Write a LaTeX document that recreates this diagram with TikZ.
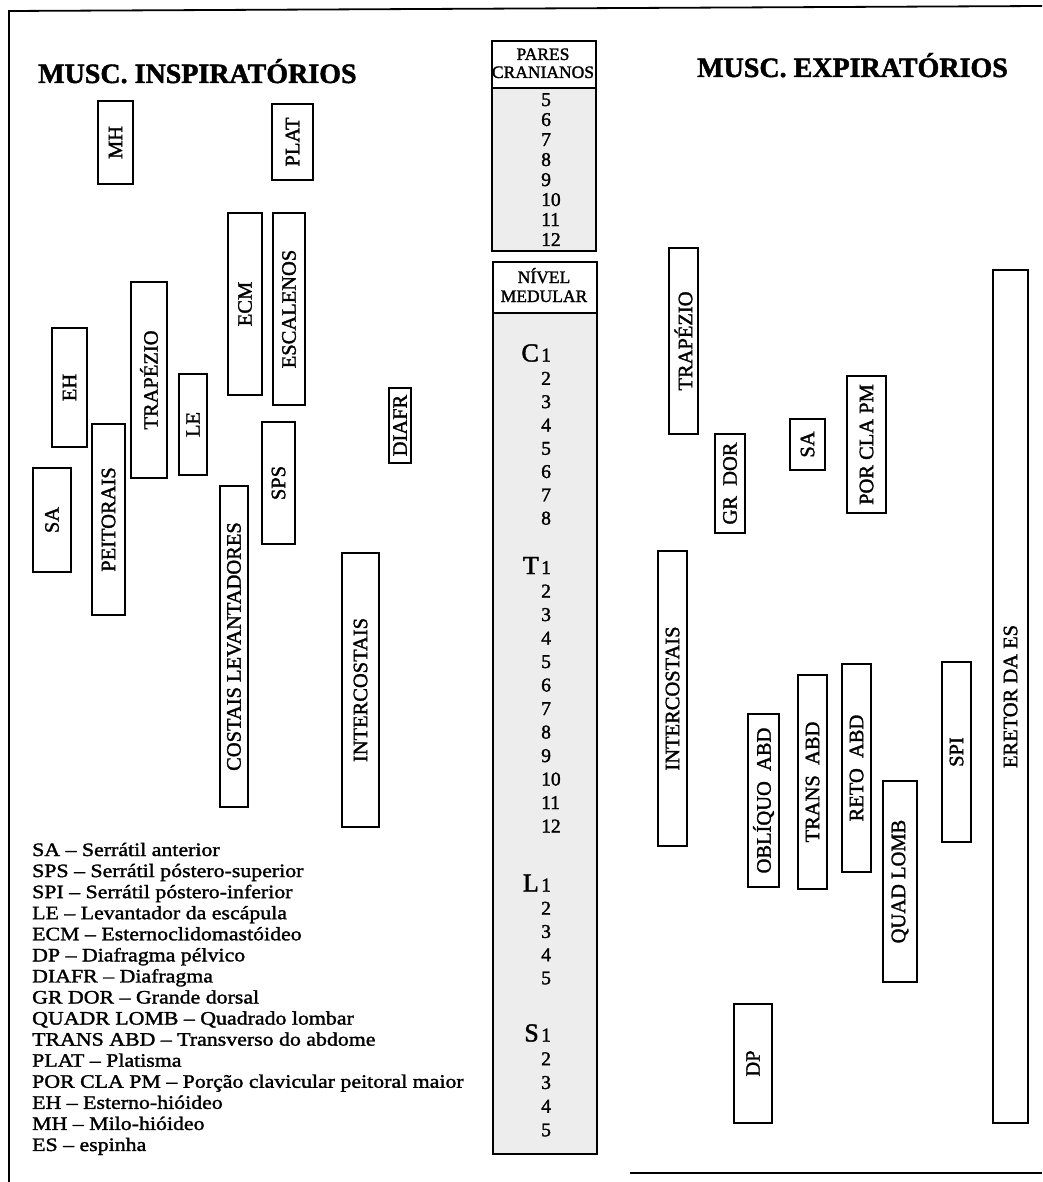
\documentclass[tikz,border=0pt]{standalone}
\usepackage{fontspec}
\setmainfont{Liberation Serif}[FakeBold=1.6]
\newfontfamily\legendfont{Liberation Serif}[FakeStretch=1.15, FakeBold=1.6, Ligatures=TeX]
\begin{document}
\begin{tikzpicture}[x=1pt,y=-1pt,
  mbox/.style={draw=black, line width=1.6pt, inner sep=0pt, rotate=90,
    font=\fontsize{20.5}{22}\selectfont},
  colbox/.style={draw=black, line width=2.2pt, inner sep=0pt},
  shade/.style={colbox, fill=black!7},
  hdr/.style={font=\fontsize{17.5}{18}\selectfont, inner sep=0pt, anchor=base},
  num/.style={font=\fontsize{19.5}{20}\selectfont, inner sep=0pt, anchor=base west},
  big/.style={font=\fontsize{26}{27}\selectfont, inner sep=0pt, anchor=base east},
  title/.style={font=\fontsize{28}{30}\selectfont\bfseries, inner sep=0pt, anchor=base west},
  leg/.style={font=\legendfont\fontsize{19}{20}\selectfont, inner sep=0pt, anchor=base west},
  frame/.style={line width=1.8pt}
]
\useasboundingbox (0,0) rectangle (1042,1182);
\fill[white] (0,0) rectangle (1042,1182);

% frame
\coordinate (ftl) at (9,11);
\coordinate (ftr) at (1042,6);
\coordinate (fbl) at (9,1182);
\coordinate (fbr) at (1042,1173);
\coordinate (fbm) at (630,1173);
\draw[frame] (fbl) -- (ftl) -- (ftr);
\draw[frame] (fbm) -- (fbr);

% titles
\node[title] (tin) at (38,83) {MUSC. INSPIRATÓRIOS};
\node[title] (tex) at (697,77) {MUSC. EXPIRATÓRIOS};

% central column
\node[colbox, minimum width=104pt, minimum height=47pt, anchor=north west] (crh) at (491,40) {};
\node[shade, minimum width=104pt, minimum height=163pt, anchor=north west] (crb) at (491,87) {};
\node[hdr] (crh1) at (543,60) {PARES};
\node[hdr] (crh2) at (543,78) {CRANIANOS};
\foreach \n [count=\i from 0] in {5,6,7,8,9,10,11,12}{
  \node[num] (cr\n) at (541,{106+20*\i}) {\n};
}
\node[colbox, minimum width=104pt, minimum height=51pt, anchor=north west] (mdh) at (492,261) {};
\node[shade, minimum width=104pt, minimum height=841pt, anchor=north west] (mdb) at (492,312) {};
\node[hdr] (mdh1) at (544,283) {NÍVEL};
\node[hdr] (mdh2) at (544,302) {MEDULAR};

% cervical
\node[big] (C) at (539,361.5) {C};
\foreach \n [count=\i from 0] in {1,2,3,4,5,6,7,8}{
  \node[num] (c\n) at (541,{361.5+23.3*\i}) {\n};
}
% thoracic
\node[big] (T) at (539,574) {T};
\foreach \n [count=\i from 0] in {1,2,3,4,5,6,7,8,9,10,11,12}{
  \node[num] (t\n) at (541,{574+23.5*\i}) {\n};
}
% lumbar
\node[big] (L) at (539,891.5) {L};
\foreach \n [count=\i from 0] in {1,2,3,4,5}{
  \node[num] (l\n) at (541,{891.5+23.2*\i}) {\n};
}
% sacral
\node[big] (S) at (539,1041.5) {S};
\foreach \n [count=\i from 0] in {1,2,3,4,5}{
  \node[num] (s\n) at (541,{1041.5+23.7*\i}) {\n};
}

% inspiratory muscles
\node[mbox, minimum width=83pt, minimum height=35pt] (mh) at (115.5,142.5) {MH};
\node[mbox, minimum width=76pt, minimum height=41pt] (plat) at (292.5,142) {PLAT};
\node[mbox, minimum width=182pt, minimum height=34pt] (ecm) at (245,304) {ECM};
\node[mbox, minimum width=192pt, minimum height=32pt] (esc) at (289,309) {ESCALENOS};
\node[mbox, minimum width=196pt, minimum height=36pt] (trapl) at (149,380) {TRAPÉZIO};
\node[mbox, minimum width=119pt, minimum height=35pt] (eh) at (69.5,387.5) {EH};
\node[mbox, minimum width=101pt, minimum height=28pt] (le) at (193,424.5) {LE};
\node[mbox, minimum width=75pt, minimum height=22pt] (diafr) at (400,425.5) {DIAFR};
\node[mbox, minimum width=104pt, minimum height=38pt] (sal) at (52,520) {SA};
\node[mbox, minimum width=191pt, minimum height=33pt] (peit) at (108.5,519.5) {PEITORAIS};
\node[mbox, minimum width=122pt, minimum height=33pt] (sps) at (278.5,483) {SPS};
\node[mbox, minimum width=321pt, minimum height=28pt] (cost) at (234,646.5) {COSTAIS LEVANTADORES};
\node[mbox, minimum width=274pt, minimum height=37pt] (intl) at (360.5,690) {INTERCOSTAIS};

% expiratory muscles
\node[mbox, minimum width=186pt, minimum height=29pt] (trapr) at (683.5,341) {TRAPÉZIO};
\node[mbox, minimum width=99pt, minimum height=30pt] (grdor) at (730,483.5) {GR\hspace{0.5em}DOR};
\node[mbox, minimum width=51pt, minimum height=35pt] (sar) at (807.5,444.5) {SA};
\node[mbox, minimum width=137pt, minimum height=39pt] (porcla) at (866.5,444.5) {POR CLA PM};
\node[mbox, minimum width=853pt, minimum height=35pt] (eret) at (1010.5,696.5) {ERETOR DA ES};
\node[mbox, minimum width=295pt, minimum height=29pt] (intr) at (672.5,698.5) {INTERCOSTAIS};
\node[mbox, minimum width=173pt, minimum height=31pt] (obl) at (763.5,800.5) {OBLÍQUO\hspace{0.5em}ABD};
\node[mbox, minimum width=214pt, minimum height=29pt, line width=2.4pt] (trans) at (812.5,782) {TRANS\hspace{0.5em}ABD};
\node[mbox, minimum width=208pt, minimum height=29pt] (reto) at (856.5,768) {RETO\hspace{0.5em}ABD};
\node[mbox, minimum width=201pt, minimum height=34pt] (quad) at (900,881.5) {QUAD LOMB};
\node[mbox, minimum width=180pt, minimum height=29pt] (spi) at (956.5,752) {SPI};
\node[mbox, minimum width=119pt, minimum height=38pt] (dp) at (753,1063.5) {DP};

% legend
\foreach \t [count=\i from 0] in {
  {SA – Serrátil anterior},
  {SPS – Serrátil póstero-superior},
  {SPI – Serrátil póstero-inferior},
  {LE – Levantador da escápula},
  {ECM – Esternoclidomastóideo},
  {DP – Diafragma pélvico},
  {DIAFR – Diafragma},
  {GR DOR – Grande dorsal},
  {QUADR LOMB – Quadrado lombar},
  {TRANS ABD – Transverso do abdome},
  {PLAT – Platisma},
  {POR CLA PM – Porção clavicular peitoral maior},
  {EH – Esterno-hióideo},
  {MH – Milo-hióideo},
  {ES – espinha}}{
  \node[leg] (leg\i) at (32,{856+21.07*\i}) {\t};
}
\end{tikzpicture}
\end{document}
